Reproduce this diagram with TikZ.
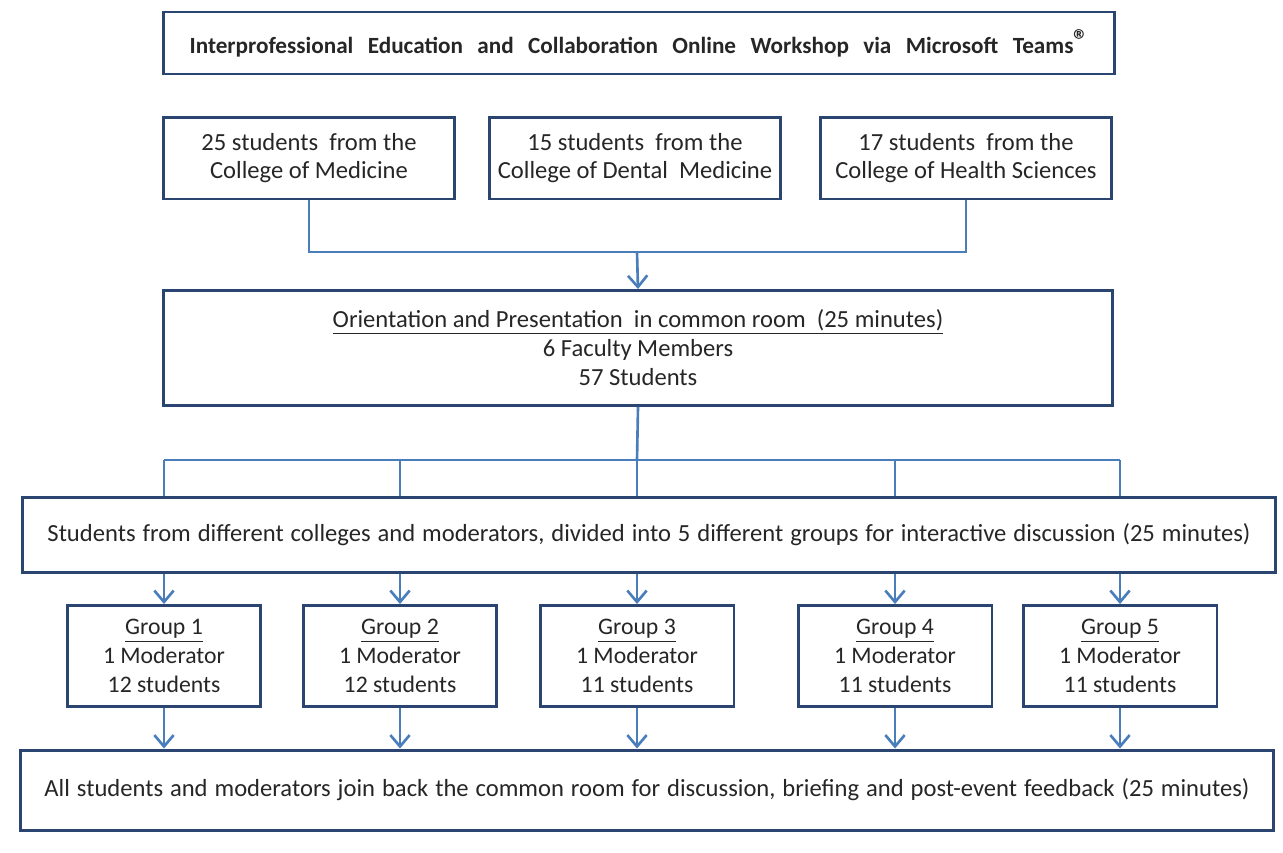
\documentclass[tikz,border=0pt]{standalone}
\usepackage{fontspec}
\setmainfont{Carlito}
\newfontfamily\wideface[WordSpace=1.25]{Carlito}
\usepackage{xcolor}
\usetikzlibrary{positioning}
\usetikzlibrary{arrows.meta}
\definecolor{boxblue}{HTML}{2A4670}
\definecolor{linkblue}{HTML}{4A7EBB}
\definecolor{inkgray}{HTML}{262626}
\tikzset{box/.style = {draw=boxblue, line width=1.7pt, fill=white,
                       align=center, text=inkgray, inner sep=0pt,
                       font=\fontsize{14}{16.5}\selectfont}}
\tikzset{link/.style = {draw=linkblue, line width=1.5pt}}
\tikzset{flow/.style = {link, -{Straight Barb[length=6.5pt, width=11pt, line width=1.5pt]}}}

\begin{document}
\begin{tikzpicture}[x=0.02cm, y=-0.02cm]
    \useasboundingbox (0,0) rectangle (1283,852);

    \node[box, minimum width=19.04cm, minimum height=1.24cm,
          font=\bfseries\fontsize{13.2}{16}\selectfont]
          (title) at (639,43)
          {\spaceskip=0.62em plus 0.1em\relax Interprofessional Education and Collaboration Online Workshop via Microsoft Teams\raisebox{0.25ex}{\fontsize{17}{17}\selectfont\textregistered}};

    % the three colleges
    \node[box, minimum width=5.84cm, minimum height=1.64cm,
          font=\fontsize{14}{15.5}\selectfont] (med) at (309,158)
          {25 students\ \ from the\\College of Medicine};
    \node[box, minimum width=5.84cm, minimum height=1.64cm,
          font=\fontsize{14}{15.5}\selectfont] (dent) at (635,158)
          {15 students\ \ from the\\College of Dental\ \ Medicine};
    \node[box, minimum width=5.84cm, minimum height=1.64cm,
          font=\fontsize{14}{15.5}\selectfont] (hlth) at (966,158)
          {17 students\ \ from the\\College of Health Sciences};

    \node[box, minimum width=19cm, minimum height=2.3cm] (orient) at (638,348)
          {\underline{Orientation and Presentation\ \ in common room\ \ (25 minutes)}\\6 Faculty Members\\57 Students};

    \node[box, minimum width=25.08cm, minimum height=1.5cm,
          font=\wideface\fontsize{14}{16.5}\selectfont] (divide) at (649,535)
          {Students from different colleges and moderators, divided into 5 different groups for interactive discussion (25 minutes)};

    % groups: x / number / students
    \foreach \gx/\n/\s in {164/1/12, 400/2/12, 637/3/11, 895/4/11, 1120/5/11}
        \node[box, minimum width=3.88cm, minimum height=2.02cm,
              font=\fontsize{13.5}{16.5}\selectfont] (g\n) at (\gx,656)
              {\underline{Group \n}\\1 Moderator\\\s\ students};

    \node[box, minimum width=25.08cm, minimum height=1.6cm,
          font=\wideface\fontsize{14}{16.5}\selectfont] (close) at (647,790)
          {All students and moderators join back the common room for discussion, briefing and post-event feedback (25 minutes)};

    \coordinate (merge) at (637,252);
    \coordinate (bar) at (637,460);

    \draw[link] (med.south) |- (merge) -| (hlth.south);
    \draw[flow] (merge) -- (orient.north);
    \draw[link] (orient.south) -- (bar);
    \draw[link] (g1 |- bar) -- (g5 |- bar); % splitter
    \foreach \n in {1,...,5} {
        \draw[link] (g\n |- bar) -- (g\n |- divide.north);
        \draw[flow] (g\n |- divide.south) -- (g\n.north);
        \draw[flow] (g\n.south) -- (g\n |- close.north);
    }
\end{tikzpicture}
\end{document}
